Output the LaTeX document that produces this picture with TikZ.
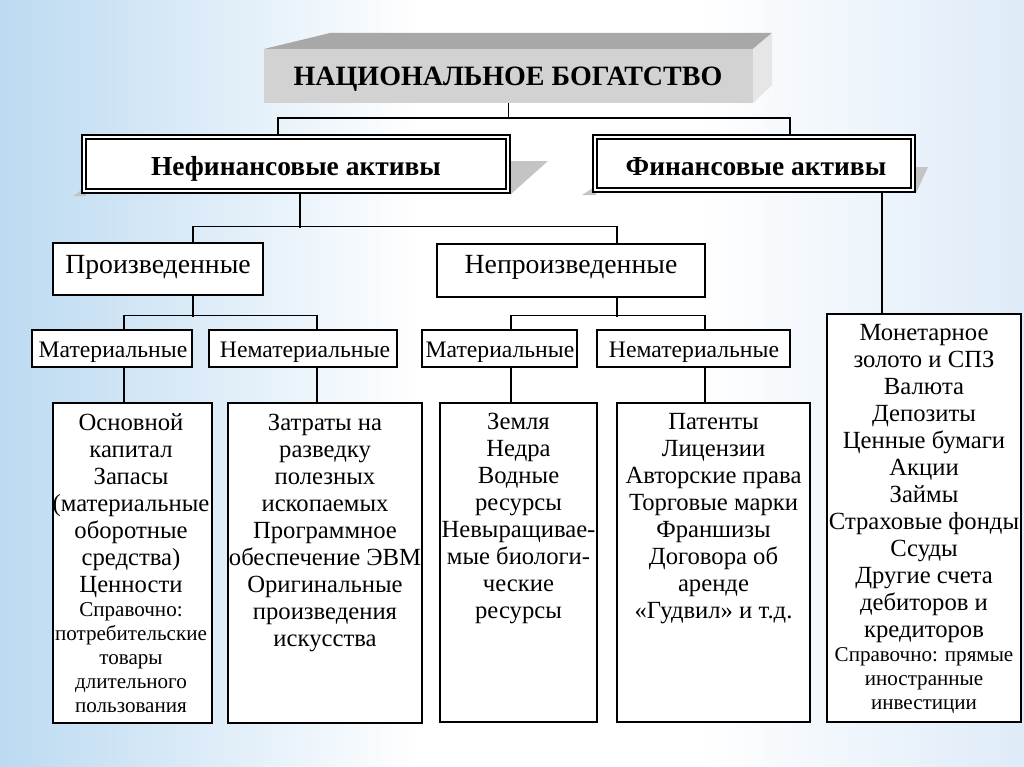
\documentclass[tikz,border=0pt]{standalone}
\usepackage{fontspec}
\setmainfont{Liberation Serif}
\usetikzlibrary{calc}
\newdimen\px \px=0.75pt
\definecolor{bgl}{RGB}{188,218,241}
\definecolor{bgr}{RGB}{222,235,248}
\definecolor{frontgray}{RGB}{210,210,210}
\definecolor{topgray}{RGB}{168,168,168}
\definecolor{sidegray}{RGB}{230,230,230}
\definecolor{shadowgray}{RGB}{196,196,196}
\begin{document}
\begin{tikzpicture}[x=0.75pt,y=-0.75pt,
  box/.style={draw=black, line width=1.1pt, fill=white, inner sep=0pt},
  dblbox/.style={draw=black, line width=1.6pt, fill=white, inner sep=0pt},
  conn/.style={draw=black, line width=1pt},
  titlef/.style={font=\fontsize{21pt}{24pt}\selectfont\bfseries, inner sep=0pt},
  lvlone/.style={font=\fontsize{20.6pt}{24pt}\selectfont\bfseries, inner sep=0pt},
  lvltwo/.style={font=\fontsize{20.8pt}{24pt}\selectfont, inner sep=0pt},
  lvlthree/.style={font=\fontsize{17.75pt}{20pt}\selectfont, inner sep=0pt},
  listbig/.style={font=\fontsize{18.5pt}{20.25pt}\selectfont, align=center, inner sep=0pt, anchor=north},
  listsmall/.style={font=\fontsize{15.8pt}{18pt}\selectfont, align=center, inner sep=0pt, anchor=north}
]
\useasboundingbox (0,0) rectangle (1024,767);
\fill[white] (0,0) rectangle (1024,767);
\fill[left color=bgl, right color=white] (0,0) rectangle (420,767);
\fill[left color=white, right color=bgr] (700,0) rectangle (1024,767);

% top 3D box
\fill[topgray] (264,49) -- (330,33) -- (772,33) -- (753,49) -- cycle;
\fill[sidegray] (753,49) -- (772,33) -- (772,85) -- (753,103) -- cycle;
\node[fill=frontgray, inner sep=0pt, minimum width=489\px, minimum height=54\px] (top) at (508.5,76) {};
\node[titlef, anchor=base] (topt) at (508,85) {НАЦИОНАЛЬНОЕ БОГАТСТВО};

% shadows of the double boxes
\fill[shadowgray] (511,161) -- (548,161) -- (511,194) -- cycle;
\fill[shadowgray] (73,196) -- (86,187) -- (86,196) -- cycle;
\fill[shadowgray] (916,167) -- (928,167) -- (916,193) -- cycle;
\fill[shadowgray] (582,195) -- (596,186) -- (596,195) -- cycle;

% level 1
\node[dblbox, minimum width=428\px, minimum height=58\px] (nef) at (296,164) {};
\draw[line width=0.9pt] ($(nef.north west)+(5,5)$) rectangle ($(nef.south east)+(-5,-5)$);
\node[lvlone, anchor=base] (neft) at (296,175) {Нефинансовые активы};
\node[dblbox, minimum width=322\px, minimum height=57\px] (fin) at (754,163.5) {};
\draw[line width=0.9pt] ($(fin.north west)+(5,5)$) rectangle ($(fin.south east)+(-5,-5)$);
\node[lvlone, anchor=base] (fint) at (756,175) {Финансовые активы};

% level 2
\node[box, minimum width=210\px, minimum height=52\px] (pro) at (158,269) {};
\node[lvltwo, anchor=base] (prot) at (158,273) {Произведенные};
\node[box, minimum width=268\px, minimum height=53\px] (nep) at (571,270.5) {};
\node[lvltwo, anchor=base] (nept) at (571,273) {Непроизведенные};

% level 3
\node[box, minimum width=160\px, minimum height=37\px] (ma) at (112,348.5) {};
\node[lvlthree, anchor=base] (mat) at (113,357) {Материальные};
\node[box, minimum width=188\px, minimum height=37\px] (na) at (303,348.5) {};
\node[lvlthree, anchor=base] (nat) at (305,357) {Нематериальные};
\node[box, minimum width=155\px, minimum height=37\px] (mb) at (499.5,348.5) {};
\node[lvlthree, anchor=base] (mbt) at (500,357) {Материальные};
\node[box, minimum width=193\px, minimum height=37\px] (nb) at (693.5,348.5) {};
\node[lvlthree, anchor=base] (nbt) at (694,357) {Нематериальные};

% lists
\node[box, minimum width=159\px, minimum height=320\px] (la) at (132.5,563) {};
\node[listbig] (lat) at (131,411) {\strut Основной\\капитал\\Запасы\\(материальные\\оборотные\\средства)\\Ценности};
\node[listsmall] (las) at (131,599) {\strut Справочно:\\потребительские\\товары\\длительного\\пользования};

\node[box, minimum width=194\px, minimum height=320\px] (lb) at (325,563) {};
\node[listbig] (lbt) at (325,411) {\strut Затраты на\\разведку\\полезных\\ископаемых\\Программное\\обеспечение ЭВМ\\Оригинальные\\произведения\\искусства};

\node[box, minimum width=157\px, minimum height=319\px] (lc) at (518.5,562.5) {};
\node[listbig] (lct) at (518.5,410) {\strut Земля\\Недра\\Водные\\ресурсы\\Невыращивае-\\мые биологи-\\ческие\\ресурсы};

\node[box, minimum width=193\px, minimum height=319\px] (ld) at (713.5,562.5) {};
\node[listbig] (ldt) at (713.5,410) {\strut Патенты\\Лицензии\\Авторские права\\Торговые марки\\Франшизы\\Договора об\\аренде\\«Гудвил» и т.д.};

\node[box, minimum width=194\px, minimum height=408\px] (le) at (924,518) {};
\node[listbig] (let) at (924,321) {\strut Монетарное\\золото и СПЗ\\Валюта\\Депозиты\\Ценные бумаги\\Акции\\Займы\\Страховые фонды\\Ссуды\\Другие счета\\дебиторов и\\кредиторов};
\node[listsmall] (les) at (924,644.5) {\strut Справочно: прямые\\иностранные\\инвестиции};

% connectors
\draw[conn] (top.south) -- ++(0,16);
\draw[conn] ($(nef.north)+(-18,0)$) -- ++(0,-16) -| ($(fin.north)+(36,0)$);
\draw[conn] ($(nef.south)+(4,0)$) -- ++(0,34);
\draw[conn] ($(pro.north)+(35,0)$) -- ++(0,-16) -| ($(nep.north)+(46,0)$);
\draw[conn] ($(pro.south)+(35,0)$) -- ++(0,21);
\draw[conn] ($(ma.north)+(12,0)$) -- ++(0,-14) -| ($(na.north)+(14,0)$);
\draw[conn] ($(nep.south)+(46,0)$) -- ++(0,19);
\draw[conn] ($(mb.north)+(11.5,0)$) -- ++(0,-14) -| ($(nb.north)+(11.5,0)$);
\draw[conn] ($(ma.south)+(12,0)$) -- ($(la.north)+(-8.5,0)$);
\draw[conn] ($(na.south)+(14,0)$) -- ($(lb.north)+(-8,0)$);
\draw[conn] ($(mb.south)+(11.5,0)$) -- ($(lc.north)+(-7.5,0)$);
\draw[conn] ($(nb.south)+(11.5,0)$) -- ($(ld.north)+(-8.5,0)$);
\draw[conn] ($(fin.south)+(128,0)$) -- ($(le.north)+(-42,0)$);
\end{tikzpicture}
\end{document}
